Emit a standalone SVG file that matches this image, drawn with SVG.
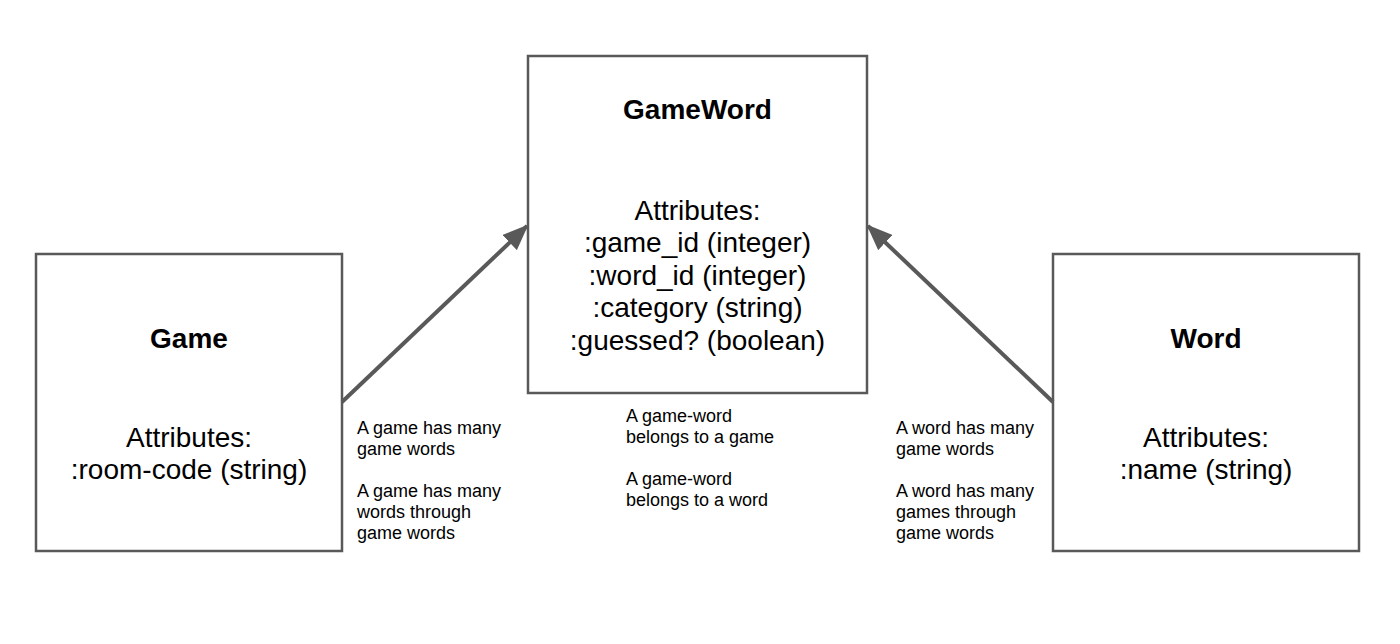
<svg xmlns="http://www.w3.org/2000/svg" width="1400" height="644" viewBox="0 0 1400 644">
<defs>
<style>
.box{fill:#fff;stroke:#595959;stroke-width:2.5}
.title{font-family:"Liberation Sans",Arial,sans-serif;font-size:28px;font-weight:bold;fill:#000;text-anchor:middle}
.attr{font-family:"Liberation Sans",Arial,sans-serif;font-size:28px;fill:#000;text-anchor:middle}
.note{font-family:"Liberation Sans",Arial,sans-serif;font-size:18px;fill:#000}
.conn{stroke:#595959;stroke-width:4;fill:none}
</style>
<marker id="arr" viewBox="0 0 26 21" refX="24" refY="10.5" markerWidth="26" markerHeight="21" orient="auto" markerUnits="userSpaceOnUse">
<path d="M0,0 L26,10.5 L0,21 z" fill="#595959"/>
</marker>
</defs>
<rect width="1400" height="644" fill="#fff"/>
<g id="game">
<rect class="box" x="36" y="254" width="306" height="297"/>
<text class="title" x="189" y="348">Game</text>
<text class="attr" x="189" y="447">Attributes:</text>
<text class="attr" x="189" y="479">:room-code (string)</text>
</g>
<g id="gameword">
<rect class="box" x="528" y="56" width="339" height="337"/>
<text class="title" x="697.5" y="119">GameWord</text>
<text class="attr" x="697.5" y="220">Attributes:</text>
<text class="attr" x="697.5" y="252">:game_id (integer)</text>
<text class="attr" x="697.5" y="285">:word_id (integer)</text>
<text class="attr" x="697.5" y="317">:category (string)</text>
<text class="attr" x="697.5" y="350">:guessed? (boolean)</text>
</g>
<g id="word">
<rect class="box" x="1053" y="254" width="306" height="297"/>
<text class="title" x="1206" y="348">Word</text>
<text class="attr" x="1206" y="447">Attributes:</text>
<text class="attr" x="1206" y="479">:name (string)</text>
</g>
<g id="connectors">
<line class="conn" x1="342" y1="402" x2="527" y2="226" marker-end="url(#arr)"/>
<line class="conn" x1="1053" y1="402" x2="868" y2="226" marker-end="url(#arr)"/>
</g>
<g id="labels">
<text class="note" x="357" y="434">A game has many</text>
<text class="note" x="357" y="455">game words</text>
<text class="note" x="357" y="497">A game has many</text>
<text class="note" x="357" y="518">words through</text>
<text class="note" x="357" y="539">game words</text>
<text class="note" x="626" y="422">A game-word</text>
<text class="note" x="626" y="443">belongs to a game</text>
<text class="note" x="626" y="485">A game-word</text>
<text class="note" x="626" y="506">belongs to a word</text>
<text class="note" x="896" y="434">A word has many</text>
<text class="note" x="896" y="455">game words</text>
<text class="note" x="896" y="497">A word has many</text>
<text class="note" x="896" y="518">games through</text>
<text class="note" x="896" y="539">game words</text>
</g>
</svg>
